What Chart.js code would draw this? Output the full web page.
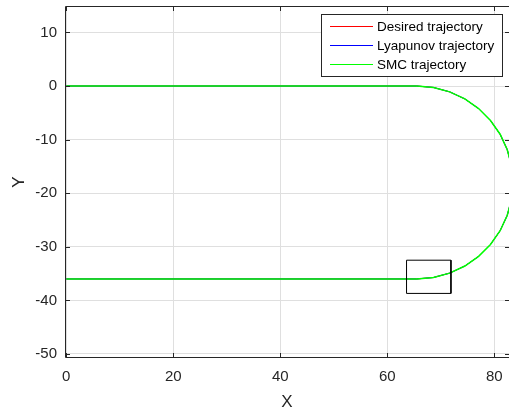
<!DOCTYPE html>
<html>
<head>
<meta charset="utf-8">
<script src="https://cdn.jsdelivr.net/npm/chart.js@4"></script>
<style>
html, body { margin: 0; padding: 0; background: #fff; }
</style>
</head>
<body>
<canvas id="myChart" width="509" height="416"></canvas>
<script>
// trajectory: straight run at y=0, half turn, straight back at y=-36
const pathX = [0, 65.5, 68.63, 71.66, 74.5, 77.07, 79.29, 81.09, 82.41, 83.23, 83.5,
               83.23, 82.41, 81.09, 79.29, 77.07, 74.5, 71.66, 68.63, 65.5, 0];
const pathY = [0, 0, -0.27, -1.09, -2.41, -4.21, -6.43, -9.0, -11.84, -14.87, -18,
               -21.13, -24.16, -27.0, -29.57, -31.79, -33.59, -34.91, -35.73, -36, -36];

// zoom box drawn near the end of the turn
const boxX = [63.6, 71.9, 71.9, 63.6, 63.6];
const boxY = [-32.5, -32.5, -38.7, -38.7, -32.5];

const seriesNames = ['Desired trajectory', 'Lyapunov trajectory', 'SMC trajectory'];
const seriesColors = ['#ff0000', '#0000ff', '#00ff00'];
const seriesWidths = [1, 1, 1.5];

const xTicks = [0, 20, 40, 60, 80];
const yTicks = [-50, -40, -30, -20, -10, 0, 10];

const axisColor = '#262626';
const gridColor = '#dfdfdf';
const fontFamily = "'Liberation Sans', Arial, Helvetica, sans-serif";

function toPoints(xs, ys) {
    return xs.map((x, i) => ({ x: x, y: ys[i] }));
}

const datasets = seriesNames.map((name, i) => ({
    label: name,
    data: toPoints(pathX, pathY),
    borderColor: seriesColors[i],
    borderWidth: seriesWidths[i],
    showLine: true,
    pointRadius: 0,
    order: 3 - i
}));
datasets.push({
    label: 'box',
    data: toPoints(boxX, boxY),
    borderColor: '#000000',
    borderWidth: 1,
    showLine: true,
    pointRadius: 0,
    order: 0
});

// axes box with inward tick marks (matlab style); right edge falls outside the picture
const frame = {
    id: 'frame',
    afterDatasetsDraw(chart) {
        const { ctx, chartArea: { left, top, right, bottom }, scales: { x, y } } = chart;
        ctx.save();
        ctx.strokeStyle = axisColor;
        ctx.lineWidth = 1;
        ctx.beginPath();
        ctx.moveTo(right, top + 0.5);
        ctx.lineTo(left + 0.5, top + 0.5);
        ctx.lineTo(left + 0.5, bottom - 0.5);
        ctx.lineTo(right, bottom - 0.5);
        ctx.stroke();

        ctx.beginPath();
        xTicks.forEach(v => {
            const px = Math.round(x.getPixelForValue(v)) + 0.5;
            ctx.moveTo(px, bottom);
            ctx.lineTo(px, bottom - 5);
            ctx.moveTo(px, top);
            ctx.lineTo(px, top + 5);
        });
        yTicks.forEach(v => {
            const py = Math.round(y.getPixelForValue(v)) + 0.5;
            ctx.moveTo(left, py);
            ctx.lineTo(left + 5, py);
            ctx.moveTo(right, py);
            ctx.lineTo(right - 4, py);
        });
        ctx.stroke();
        ctx.restore();
    }
};

const legendBox = {
    id: 'legendBox',
    afterDraw(chart) {
        const ctx = chart.ctx;
        ctx.save();
        ctx.fillStyle = '#ffffff';
        ctx.fillRect(322, 14, 181, 62);
        ctx.strokeStyle = axisColor;
        ctx.lineWidth = 1;
        ctx.strokeRect(321.5, 14.5, 181, 62);
        ctx.font = '13.5px ' + fontFamily;
        ctx.textBaseline = 'middle';
        ctx.textAlign = 'left';
        seriesNames.forEach((name, i) => {
            const yy = 26 + i * 19;
            ctx.strokeStyle = seriesColors[i];
            ctx.beginPath();
            ctx.moveTo(330, yy + 0.5);
            ctx.lineTo(373, yy + 0.5);
            ctx.stroke();
            ctx.fillStyle = '#000000';
            ctx.fillText(name, 377, yy + 1);
        });
        ctx.restore();
    }
};

const config = {
    type: 'scatter',
    data: { datasets: datasets },
    options: {
        responsive: false,
        animation: false,
        layout: { padding: { top: 6, right: 0, left: 0, bottom: 0 } },
        plugins: {
            legend: { display: false },
            tooltip: { enabled: false }
        },
        scales: {
            x: {
                type: 'linear',
                min: -0.24,
                max: 82.75,
                afterBuildTicks: s => { s.ticks = xTicks.map(v => ({ value: v })); },
                afterFit: s => {
                    s.height = 58;
                    s.paddingLeft = 0;
                    s.paddingRight = 0;
                },
                border: { display: false },
                grid: { color: gridColor, drawTicks: false, lineWidth: 1 },
                ticks: {
                    color: axisColor,
                    padding: 10,
                    maxRotation: 0,
                    font: { family: fontFamily, size: 15 }
                },
                title: {
                    display: true,
                    text: 'X',
                    color: axisColor,
                    font: { family: fontFamily, size: 17 },
                    padding: { top: 0, bottom: 3 }
                }
            },
            y: {
                type: 'linear',
                min: -50.75,
                max: 14.93,
                afterBuildTicks: s => { s.ticks = yTicks.map(v => ({ value: v })); },
                afterFit: s => {
                    s.width = 65;
                    s.paddingTop = 0;
                    s.paddingBottom = 0;
                },
                border: { display: false },
                grid: { color: gridColor, drawTicks: false, lineWidth: 1 },
                ticks: {
                    color: axisColor,
                    padding: 8,
                    font: { family: fontFamily, size: 15 }
                },
                title: {
                    display: true,
                    text: 'Y',
                    color: axisColor,
                    font: { family: fontFamily, size: 17 },
                    padding: { top: 9, bottom: 0 }
                }
            }
        }
    },
    plugins: [frame, legendBox]
};

const myChart = new Chart(document.getElementById('myChart'), config);
</script>
</body>
</html>
